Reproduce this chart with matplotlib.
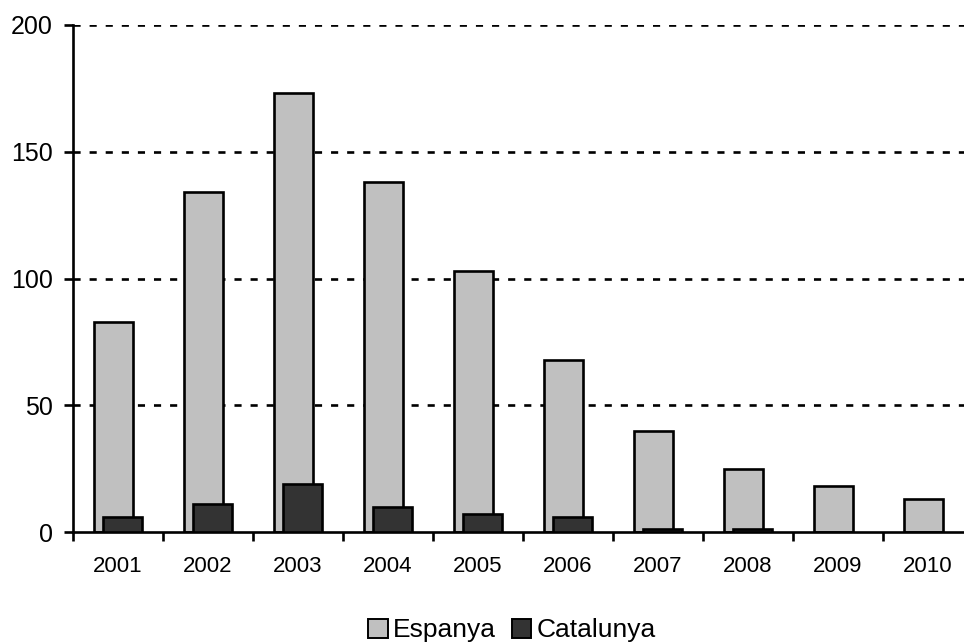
import numpy as np
import matplotlib.pyplot as plt
from matplotlib.patches import Patch

plt.rcParams['font.family'] = ['Liberation Sans', 'DejaVu Sans']

years = ['2001', '2002', '2003', '2004', '2005', '2006', '2007', '2008', '2009', '2010']
espanya = [83, 134, 173, 138, 103, 68, 40, 25, 18, 13]
catalunya = [6, 11, 19, 10, 7, 6, 1, 1, 0, 0]

grey = '#c0c0c0'
dark = '#333333'

fig = plt.figure(figsize=(9.64, 6.43), dpi=100)
ax = fig.add_axes([73 / 964, 111 / 643, 900 / 964, 507 / 643])

x = np.arange(len(years))
w = 0.44
ax.bar(x - 0.05, espanya, w, color=grey, edgecolor='black', linewidth=1.9, zorder=2)
cat = np.array(catalunya, dtype=float)
cat[cat == 0] = np.nan
ax.bar(x + 0.05, cat, w, color=dark, edgecolor='black', linewidth=1.9, zorder=3)

ax.set_xlim(-0.5, len(years) - 0.5)
ax.set_ylim(0, 200)

# dotted horizontal guides behind the bars
for v in [50, 100, 150, 200]:
    ax.axhline(v, color='black', linewidth=1.9, linestyle=(0, (2.7, 3.4)), zorder=1)

ax.set_yticks([0, 50, 100, 150, 200])
ax.tick_params(axis='y', direction='out', length=6.5, width=1.9, pad=8, labelsize=18)

ax.set_xticks(np.arange(-0.5, len(years)), minor=False)
ax.set_xticklabels([])
ax.set_xticks(x, minor=True)
ax.set_xticklabels(years, minor=True)
ax.tick_params(axis='x', which='major', direction='out', length=6.5, width=1.9)
ax.tick_params(axis='x', which='minor', length=0, pad=17, labelsize=16)

for s in ['top', 'right']:
    ax.spines[s].set_visible(False)
for s in ['left', 'bottom']:
    ax.spines[s].set_linewidth(1.9)

handles = [Patch(facecolor=grey, edgecolor='black', linewidth=1.4, label='Espanya'),
           Patch(facecolor=dark, edgecolor='black', linewidth=1.4, label='Catalunya')]
fig.legend(handles=handles, loc='lower center', bbox_to_anchor=(0.531, -0.036), ncol=2,
           frameon=False, fontsize=19, handlelength=0.75, handleheight=0.75,
           handletextpad=0.2, columnspacing=0.6)

fig.savefig('out.png', dpi=100)
